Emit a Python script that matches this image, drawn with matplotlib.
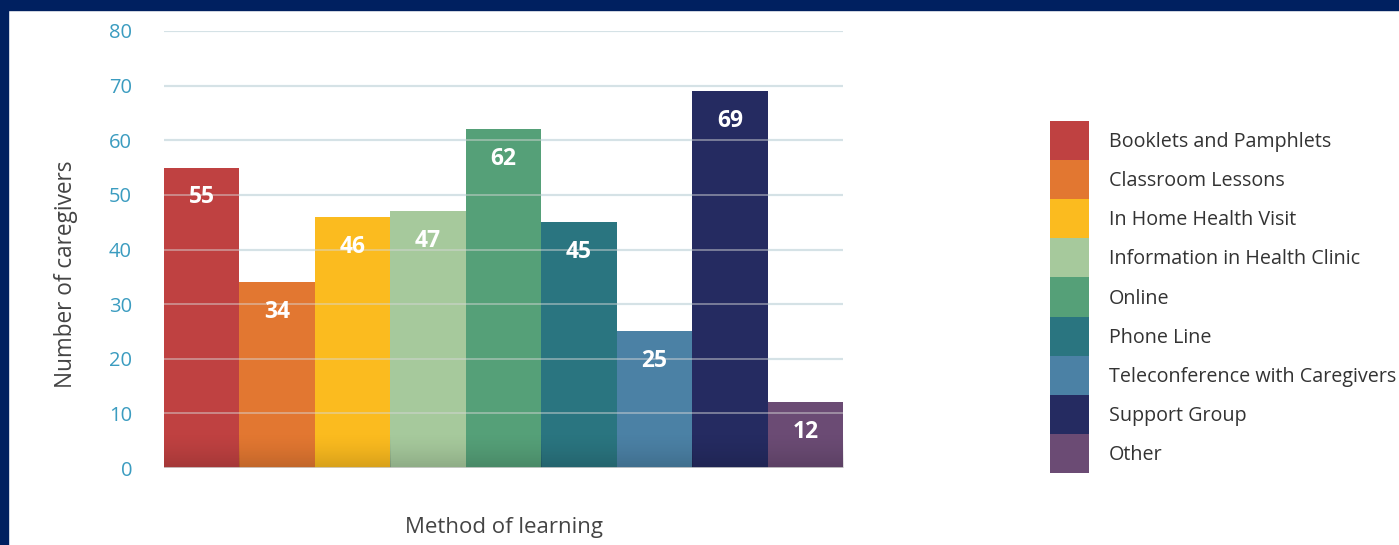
import numpy as np
import matplotlib
matplotlib.use("Agg")
import matplotlib.pyplot as plt
from matplotlib.patches import Rectangle

plt.rcParams["font.family"] = ["Open Sans", "DejaVu Sans"]

# data
methods = [
    "Booklets and Pamphlets",
    "Classroom Lessons",
    "In Home Health Visit",
    "Information in Health Clinic",
    "Online",
    "Phone Line",
    "Teleconference with Caregivers",
    "Support Group",
    "Other",
]
caregivers = [55, 34, 46, 47, 62, 45, 25, 69, 12]
colors = ["#bf4141", "#e27731", "#fbbb1f", "#a6c99c", "#55a078",
          "#2a7580", "#4b81a5", "#252b61", "#6b4b74"]
y_ticks = [0, 10, 20, 30, 40, 50, 60, 70, 80]

W, H = 1399, 545
fig = plt.figure(figsize=(W / 100, H / 100), dpi=100)
fig.patch.set_facecolor("white")

# navy frame on top and left
fig.add_artist(Rectangle((0, 1 - 10 / H), 1, 10 / H, transform=fig.transFigure,
                         color="#002060", zorder=10))
fig.add_artist(Rectangle((0, 0), 8 / W, 1, transform=fig.transFigure,
                         color="#002060", zorder=10))

ax = fig.add_axes([164 / W, 77 / H, 679 / W, 437 / H])
x = np.arange(len(methods))
ax.bar(x, caregivers, width=1.0, color=colors, zorder=2)

# darker shading near the base of the bars
grad = np.zeros((64, 2, 4))
grad[..., 3] = np.linspace(0.0, 0.28, 64)[:, None] ** 1.5
for xi, v in zip(x, caregivers):
    ax.imshow(grad, extent=(xi - 0.5, xi + 0.5, 0, min(6.5, v)),
              aspect="auto", origin="upper", zorder=2.5, interpolation="bilinear")

ax.set_xlim(-0.5, len(methods) - 0.5)
ax.set_ylim(0, 80)
ax.set_yticks(y_ticks)
for t in y_ticks[1:]:
    ax.axhline(t, color="#d3ecf2", lw=1.6, zorder=1)
    ax.axhline(t, color="#d8d8d8", lw=1.2, alpha=0.55, zorder=3)
ax.axhline(0, color="#cfcfcf", lw=1.2, zorder=3)

ax.set_xticks([])
ax.tick_params(axis="y", length=0, pad=23, labelsize=14.5, labelcolor="#3b9cc0")
for s in ax.spines.values():
    s.set_visible(False)

for xi, v in zip(x, caregivers):
    ax.annotate(str(v), (xi, v), xytext=(0, -21.5), textcoords="offset points",
                ha="center", va="center", color="white", fontsize=16.5,
                fontweight="bold", zorder=4)

fig.text(504 / W, 1 - 527 / H, "Method of learning", ha="center", va="center",
         fontsize=16, color="#444444")
fig.text(66 / W, 1 - 274 / H, "Number of caregivers", ha="center", va="center",
         rotation=90, fontsize=16.3, color="#444444")

# legend as a stacked colour strip
lax = fig.add_axes([1050 / W, 72 / H, 39 / W, 352 / H])
lax.barh(x, [1] * len(methods), height=1.0, color=colors)
lax.set_ylim(len(methods) - 0.5, -0.5)
lax.set_xlim(0, 1)
lax.axis("off")
for xi, name in zip(x, methods):
    lax.text(1 + 20 / 39, xi + 0.04, name, transform=lax.get_yaxis_transform(),
             ha="left", va="center", fontsize=14.2, color="#333333")

fig.savefig("out.png", dpi=100)
